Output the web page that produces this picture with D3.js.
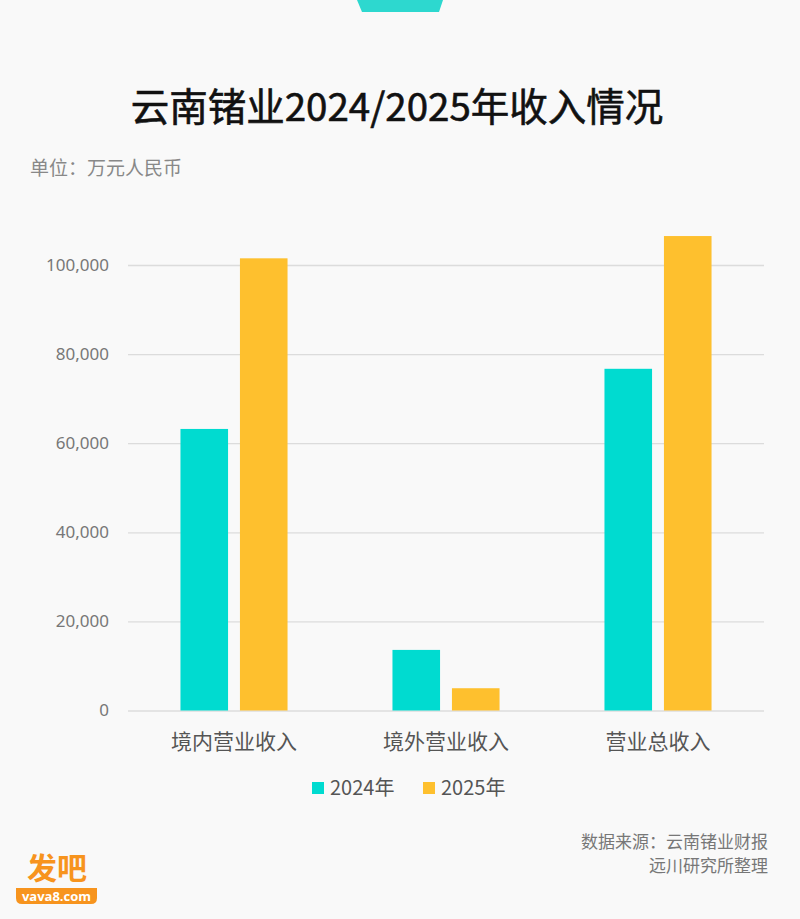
<!DOCTYPE html>
<html>
<head>
<meta charset="utf-8">
<script src="https://cdn.jsdelivr.net/npm/d3@7"></script>
<style>
  html, body { margin: 0; padding: 0; background: #f9f9f9; }
  svg { display: block; }
</style>
</head>
<body>
<div class="chart"></div>
<script>
// Chart data
const categories = ["境内营业收入", "境外营业收入", "营业总收入"];
const years = ["2024年", "2025年"];
const values2024 = [63200, 13600, 76700];
const values2025 = [101500, 5000, 106500];
const yTicks = [0, 20000, 40000, 60000, 80000, 100000];

const W = 800, H = 919;
const cjk = "'Noto Sans CJK SC', 'Noto Sans', sans-serif";
const colors = { "2024年": "#00dbd0", "2025年": "#fec02e" };

const svg = d3.select(".chart")
  .append("svg")
  .attr("width", W)
  .attr("height", H);

svg.append("rect").attr("width", W).attr("height", H).attr("fill", "#f9f9f9");

// Top tab
svg.append("path")
  .attr("d", "M357,0 L443,0 L439,12 L362,12 Z")
  .attr("fill", "#2dd8cf");

// Title and unit
svg.append("text")
  .attr("x", 397).attr("y", 121)
  .attr("text-anchor", "middle")
  .attr("font-family", cjk)
  .attr("font-size", 38.5)
  .attr("font-weight", 400)
  .attr("stroke", "#111")
  .attr("stroke-width", 0.6)
  .attr("fill", "#111")
  .text("云南锗业2024/2025年收入情况");

svg.append("text")
  .attr("x", 30).attr("y", 175)
  .attr("font-family", cjk)
  .attr("font-size", 19)
  .attr("fill", "#888")
  .text("单位：万元人民币");

// Scales
const margin = { left: 128, right: 36 };
const plotRight = W - margin.right;
const y = d3.scaleLinear().domain([0, 100000]).range([710.5, 265]);

const x0 = d3.scaleBand()
  .domain(categories)
  .range([margin.left, plotRight])
  .paddingInner(0.495)
  .paddingOuter(0.2475);

const x1 = d3.scaleBand()
  .domain(years)
  .range([0, x0.bandwidth()])
  .paddingInner(0.2);

// Grid lines + y labels
const yAxis = svg.append("g")
  .attr("transform", `translate(${margin.left},0)`)
  .call(d3.axisLeft(y)
    .tickValues(yTicks)
    .tickSize(-(plotRight - margin.left))
    .tickPadding(19)
    .tickFormat(d3.format(",")));
yAxis.select(".domain").remove();
yAxis.selectAll(".tick line").attr("stroke", "#dcdcdc").attr("stroke-width", 1.3);
yAxis.selectAll(".tick text")
  .attr("font-family", "'Noto Sans', sans-serif")
  .attr("font-size", 17)
  .attr("fill", "#777");

// Bars
const rows = categories.map((c, i) => ({ cat: c, vals: [values2024[i], values2025[i]] }));

const groups = svg.append("g")
  .selectAll("g")
  .data(rows)
  .join("g")
  .attr("transform", d => `translate(${x0(d.cat)},0)`);

groups.selectAll("rect")
  .data(d => d.vals.map((v, j) => ({ year: years[j], value: v })))
  .join("rect")
  .attr("x", d => x1(d.year))
  .attr("y", d => y(d.value))
  .attr("width", x1.bandwidth())
  .attr("height", d => y(0) - y(d.value))
  .attr("fill", d => colors[d.year]);

// X labels
const xAxis = svg.append("g")
  .attr("transform", `translate(0,${y(0)})`)
  .call(d3.axisBottom(x0).tickSize(0).tickPadding(24));
xAxis.select(".domain").remove();
xAxis.selectAll(".tick text")
  .attr("font-family", cjk)
  .attr("font-size", 21)
  .attr("fill", "#555");

// Legend
const legendItems = [{ year: "2024年", x: 312 }, { year: "2025年", x: 423 }];
const legend = svg.append("g").selectAll("g")
  .data(legendItems)
  .join("g")
  .attr("transform", d => `translate(${d.x},782)`);
legend.append("rect")
  .attr("width", 12).attr("height", 12)
  .attr("fill", d => colors[d.year]);
legend.append("text")
  .attr("x", 18).attr("y", 13)
  .attr("font-family", cjk)
  .attr("font-size", 20)
  .attr("fill", "#555")
  .text(d => d.year);

// Source
const source = ["数据来源：云南锗业财报", "远川研究所整理"];
svg.append("g").selectAll("text")
  .data(source)
  .join("text")
  .attr("x", 768)
  .attr("y", (d, i) => 848 + i * 24)
  .attr("text-anchor", "end")
  .attr("font-family", cjk)
  .attr("font-size", 17)
  .attr("fill", "#777")
  .text(d => d);

// Logo
const logo = svg.append("g");
logo.append("text")
  .attr("x", 57).attr("y", 879)
  .attr("text-anchor", "middle")
  .attr("font-family", cjk)
  .attr("font-size", 30)
  .attr("font-weight", 700)
  .attr("fill", "#f7941e")
  .text("发吧");
logo.append("path")
  .attr("d", "M16,888 L97,888 L97,898 Q97,904 91,904 L22,904 Q16,904 16,898 Z")
  .attr("fill", "#f7941e");
logo.append("text")
  .attr("x", 56.5).attr("y", 901)
  .attr("text-anchor", "middle")
  .attr("font-family", "'Open Sans', sans-serif")
  .attr("font-size", 13)
  .attr("font-weight", 700)
  .attr("fill", "#fff")
  .text("vava8.com");
</script>
</body>
</html>
